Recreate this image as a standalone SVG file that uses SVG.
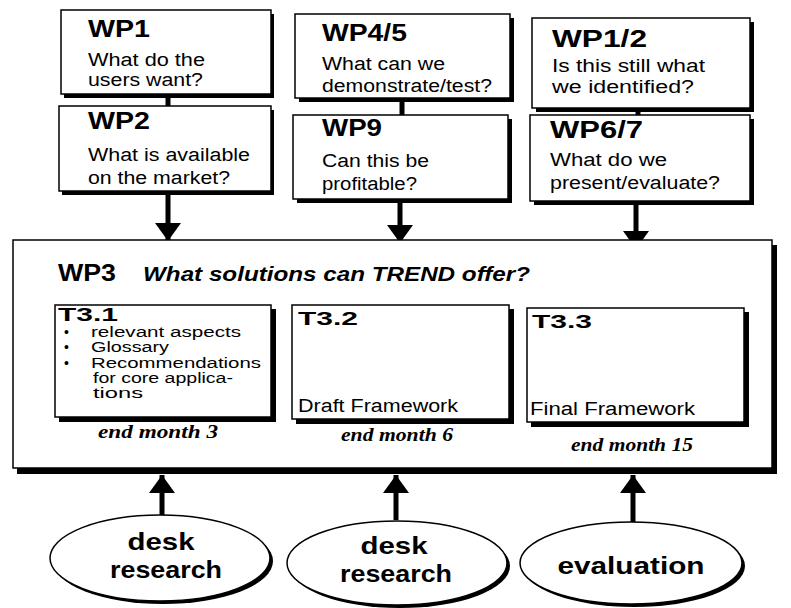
<svg xmlns="http://www.w3.org/2000/svg" width="791" height="608" viewBox="0 0 791 608">
<style>
.box{fill:#fff;stroke:#000;stroke-width:1.5}
.sh{fill:#000}
.t{font-family:"Liberation Sans",Arial,sans-serif;fill:#000}
.h{font-weight:bold;font-size:23px}
.b{font-size:18px}
.s{font-size:14px}
.h2{font-weight:bold;font-size:18px}
.em{font-family:"Liberation Serif","Times New Roman",serif;font-style:italic;font-weight:bold;font-size:18px;fill:#000}
.el{font-weight:bold;font-size:24px}
.conn{stroke:#000;stroke-width:5;fill:none}
</style>
<defs>
<marker id="ah" viewBox="0 0 18 26" markerWidth="18" markerHeight="26" refX="18" refY="13" orient="auto" markerUnits="userSpaceOnUse">
<path d="M0,0 L18,13 L0,26 z" fill="#000"/>
</marker>
</defs>

<rect width="791" height="608" fill="#fff"/>

<g id="connectors">
<line class="conn" x1="168" y1="95" x2="168" y2="107"/>
<line class="conn" x1="402" y1="100" x2="402" y2="115"/>
<line class="conn" x1="638" y1="110" x2="638" y2="116"/>
<line class="conn" x1="168" y1="193" x2="168" y2="241" marker-end="url(#ah)"/>
<line class="conn" x1="400" y1="200" x2="400" y2="243" marker-end="url(#ah)"/>
<line class="conn" x1="636" y1="203" x2="636" y2="249" marker-end="url(#ah)"/>
<line class="conn" x1="162" y1="517" x2="162" y2="475" marker-end="url(#ah)"/>
<line class="conn" x1="396" y1="520" x2="396" y2="475" marker-end="url(#ah)"/>
<line class="conn" x1="633" y1="522" x2="633" y2="475" marker-end="url(#ah)"/>
</g>

<g id="wp1">
<rect class="sh" x="64" y="14" width="210" height="84"/>
<rect class="box" x="61" y="10" width="210" height="84"/>
<text class="t h" x="88" y="37" textLength="62" lengthAdjust="spacingAndGlyphs">WP1</text>
<text class="t b" x="88" y="66" textLength="117" lengthAdjust="spacingAndGlyphs">What do the</text>
<text class="t b" x="88" y="86" textLength="115" lengthAdjust="spacingAndGlyphs">users want?</text>
</g>

<g id="wp2">
<rect class="sh" x="62" y="110" width="212" height="85"/>
<rect class="box" x="59" y="106" width="212" height="85"/>
<text class="t h" x="88" y="129" textLength="62" lengthAdjust="spacingAndGlyphs">WP2</text>
<text class="t b" x="88" y="161" textLength="162" lengthAdjust="spacingAndGlyphs">What is available</text>
<text class="t b" x="88" y="184" textLength="142" lengthAdjust="spacingAndGlyphs">on the market?</text>
</g>

<g id="wp45">
<rect class="sh" x="299" y="18" width="215" height="84"/>
<rect class="box" x="295" y="14" width="215" height="84"/>
<text class="t h" x="322" y="41" textLength="85" lengthAdjust="spacingAndGlyphs">WP4/5</text>
<text class="t b" x="322" y="70" textLength="123" lengthAdjust="spacingAndGlyphs">What can we</text>
<text class="t b" x="322" y="92" textLength="170" lengthAdjust="spacingAndGlyphs">demonstrate/test?</text>
</g>

<g id="wp9">
<rect class="sh" x="297" y="119" width="215" height="84"/>
<rect class="box" x="293" y="115" width="215" height="84"/>
<text class="t h" x="322" y="136" textLength="60" lengthAdjust="spacingAndGlyphs">WP9</text>
<text class="t b" x="322" y="167" textLength="107" lengthAdjust="spacingAndGlyphs">Can this be</text>
<text class="t b" x="322" y="190" textLength="95" lengthAdjust="spacingAndGlyphs">profitable?</text>
</g>

<g id="wp12">
<rect class="sh" x="536" y="22" width="218" height="90"/>
<rect class="box" x="532" y="18" width="218" height="90"/>
<text class="t h" x="552" y="47" textLength="95" lengthAdjust="spacingAndGlyphs">WP1/2</text>
<text class="t b" x="552" y="72" textLength="153" lengthAdjust="spacingAndGlyphs">Is this still what</text>
<text class="t b" x="552" y="93" textLength="142" lengthAdjust="spacingAndGlyphs">we identified?</text>
</g>

<g id="wp67">
<rect class="sh" x="534" y="119" width="220" height="86"/>
<rect class="box" x="530" y="115" width="220" height="86"/>
<text class="t h" x="550" y="138" textLength="93" lengthAdjust="spacingAndGlyphs">WP6/7</text>
<text class="t b" x="550" y="166" textLength="117" lengthAdjust="spacingAndGlyphs">What do we</text>
<text class="t b" x="550" y="189" textLength="170" lengthAdjust="spacingAndGlyphs">present/evaluate?</text>
</g>

<g id="wp3">
<rect class="sh" x="17" y="245" width="760" height="229"/>
<rect class="box" x="13" y="240" width="759" height="228"/>
<text class="t h" x="58" y="281" textLength="58" lengthAdjust="spacingAndGlyphs">WP3</text>
<text class="t" x="143" y="281" font-size="20" font-style="italic" font-weight="bold" textLength="387" lengthAdjust="spacingAndGlyphs">What solutions can TREND offer?</text>
<text class="em" x="158" y="438" text-anchor="middle" textLength="120" lengthAdjust="spacingAndGlyphs">end month 3</text>
<text class="em" x="397" y="441" text-anchor="middle" textLength="112" lengthAdjust="spacingAndGlyphs">end month 6</text>
<text class="em" x="632" y="451" text-anchor="middle" textLength="122" lengthAdjust="spacingAndGlyphs">end month 15</text>
</g>

<g id="t31">
<rect class="sh" x="59" y="309" width="217" height="113"/>
<rect class="box" x="55" y="305" width="216" height="112"/>
<text class="t h2" x="58" y="321" textLength="60" lengthAdjust="spacingAndGlyphs">T3.1</text>
<text class="t s" x="64" y="337">•</text>
<text class="t s" x="91" y="337" textLength="150" lengthAdjust="spacingAndGlyphs">relevant aspects</text>
<text class="t s" x="64" y="352">•</text>
<text class="t s" x="91" y="352" textLength="78" lengthAdjust="spacingAndGlyphs">Glossary</text>
<text class="t s" x="64" y="368">•</text>
<text class="t s" x="91" y="368" textLength="170" lengthAdjust="spacingAndGlyphs">Recommendations</text>
<text class="t s" x="93" y="383" textLength="140" lengthAdjust="spacingAndGlyphs">for core applica-</text>
<text class="t s" x="93" y="398" textLength="50" lengthAdjust="spacingAndGlyphs">tions</text>
</g>

<g id="t32">
<rect class="sh" x="296" y="309" width="218" height="115"/>
<rect class="box" x="292" y="305" width="217" height="114"/>
<text class="t h2" x="298" y="325" textLength="60" lengthAdjust="spacingAndGlyphs">T3.2</text>
<text class="t b" x="298" y="412" textLength="160" lengthAdjust="spacingAndGlyphs">Draft Framework</text>
</g>

<g id="t33">
<rect class="sh" x="531" y="312" width="218" height="115"/>
<rect class="box" x="527" y="308" width="217" height="114"/>
<text class="t h2" x="532" y="328" textLength="60" lengthAdjust="spacingAndGlyphs">T3.3</text>
<text class="t b" x="530" y="415" textLength="165" lengthAdjust="spacingAndGlyphs">Final Framework</text>
</g>

<g id="desk1">
<ellipse class="sh" cx="163" cy="561" rx="110" ry="43"/>
<ellipse class="box" cx="160" cy="558" rx="110" ry="43"/>
<text class="t el" x="161" y="550" text-anchor="middle" textLength="67" lengthAdjust="spacingAndGlyphs">desk</text>
<text class="t el" x="166" y="578" text-anchor="middle" textLength="112" lengthAdjust="spacingAndGlyphs">research</text>
</g>

<g id="desk2">
<ellipse class="sh" cx="400" cy="566" rx="110" ry="42"/>
<ellipse class="box" cx="397" cy="563" rx="110" ry="42"/>
<text class="t el" x="394" y="554" text-anchor="middle" textLength="67" lengthAdjust="spacingAndGlyphs">desk</text>
<text class="t el" x="396" y="582" text-anchor="middle" textLength="112" lengthAdjust="spacingAndGlyphs">research</text>
</g>

<g id="evaluation">
<ellipse class="sh" cx="634" cy="566" rx="111" ry="41"/>
<ellipse class="box" cx="631" cy="563" rx="111" ry="41"/>
<text class="t el" x="631" y="574" text-anchor="middle" textLength="147" lengthAdjust="spacingAndGlyphs">evaluation</text>
</g>
</svg>
